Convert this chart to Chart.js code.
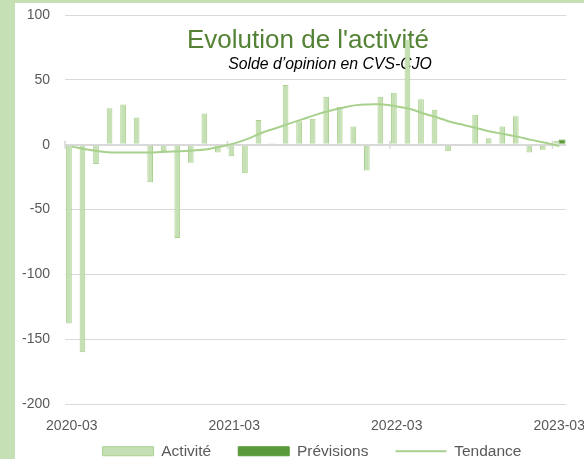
<!DOCTYPE html>
<html>
<head>
<meta charset="utf-8">
<script src="https://cdn.jsdelivr.net/npm/chart.js@4/dist/chart.umd.min.js"></script>
<style>
  body { margin: 0; background: #c5e0b4; overflow: hidden; }
  #cadre { position: absolute; left: 15px; top: 3px; width: 569px; height: 456px; background: #fff; overflow: hidden; }
</style>
</head>
<body>
<div id="cadre"><canvas id="graphe" width="569" height="466"></canvas></div>
<script>
// Données
const mois = [
    '2020-03', '2020-04', '2020-05', '2020-06', '2020-07', '2020-08', '2020-09', '2020-10', '2020-11', '2020-12',
    '2021-01', '2021-02', '2021-03', '2021-04', '2021-05', '2021-06', '2021-07', '2021-08', '2021-09', '2021-10',
    '2021-11', '2021-12', '2022-01', '2022-02', '2022-03', '2022-04', '2022-05', '2022-06', '2022-07', '2022-08',
    '2022-09', '2022-10', '2022-11', '2022-12', '2023-01', '2023-02', '2023-03'
];
const activite = [
    -138, -160, -15, 28, 31, 21, -29, -5, -72, -14,
    24, -6, -9, -22, 19, 1, 46, 18, 20, 37,
    29, 14, -20, 37, 40, 81, 35, 27, -5, -1,
    23, 5, 14, 22, -6, -4, 3
];
const previsions = [
    null, null, null, null, null, null, null, null, null, null,
    null, null, null, null, null, null, null, null, null, null,
    null, null, null, null, null, null, null, null, null, null,
    null, null, null, null, null, null, 4
];
const tendance = [
    -1.5, -3.5, -5, -6, -6, -6, -6, -5.5, -5, -4.5,
    -3.5, -1.5, 1, 4.5, 9, 12.5, 16, 19.5, 23, 26,
    28.5, 30.5, 31, 31, 29.5, 27.5, 24, 21, 17.5, 15,
    12.5, 10, 8, 6, 3.5, 1.5, -1
];
const yMin = -200;
const yMax = 100;
const yPas = 50;
const titre = "Evolution de l'activité";
const sousTitre = 'Solde d’opinion en CVS-CJO';

Chart.defaults.font.family = "'Liberation Sans', Arial, sans-serif";
Chart.defaults.color = '#595959';

// Titre dessiné dans la zone du graphique + repères sur la ligne zéro
const titres = {
    id: 'titres',
    beforeDatasetsDraw(chart) {
        const ctx = chart.ctx;
        const x = chart.scales.x;
        const y0 = chart.scales.y.getPixelForValue(0);
        const demi = (x.getPixelForValue(1) - x.getPixelForValue(0)) / 2;
        ctx.save();
        ctx.strokeStyle = '#d9d9d9';
        ctx.lineWidth = 1.5;
        ctx.beginPath();
        mois.forEach((m, i) => {
            if (m.endsWith('-03')) {
                const px = x.getPixelForValue(i) - demi;
                ctx.moveTo(px, y0 - 4);
                ctx.lineTo(px, y0 + 4);
            }
        });
        ctx.stroke();
        ctx.textAlign = 'center';
        ctx.textBaseline = 'alphabetic';
        ctx.fillStyle = '#548235';
        ctx.font = "26px 'Liberation Sans', Arial, sans-serif";
        ctx.fillText(titre, 293, 45);
        ctx.fillStyle = '#000';
        ctx.font = "italic 15.8px 'Liberation Sans', Arial, sans-serif";
        ctx.fillText(sousTitre, 315, 66);
        ctx.restore();
    }
};

// pas de découpage des étiquettes à la boîte de l'axe
const sansClip = s => { s._computeLabelArea = () => undefined; };

new Chart(document.getElementById('graphe'), {
    type: 'bar',
    data: {
        labels: mois,
        datasets: [
            {
                label: 'Activité',
                data: activite,
                backgroundColor: '#c5e0b4',
                borderColor: '#a9d18e',
                borderWidth: 1,
                barPercentage: 1.0,
                categoryPercentage: 0.84
            },
            {
                label: 'Prévisions',
                data: previsions,
                backgroundColor: '#5a9a3a',
                borderColor: '#5a9a3a',
                borderWidth: 1,
                barPercentage: 1.2,
                categoryPercentage: 0.84
            },
            {
                type: 'line',
                label: 'Tendance',
                data: tendance,
                borderColor: '#a9d18e',
                backgroundColor: '#a9d18e',
                borderWidth: 2,
                pointRadius: 0,
                tension: 0.4,
                fill: false,
                order: -1
            }
        ]
    },
    options: {
        responsive: false,
        animation: false,
        layout: { padding: { left: 25, top: 12, right: 0, bottom: 0 } },
        plugins: {
            tooltip: { enabled: false },
            legend: {
                position: 'bottom',
                labels: {
                    usePointStyle: true,
                    pointStyleWidth: 51,
                    boxHeight: 9,
                    padding: 27,
                    color: '#595959',
                    font: { size: 15.5 },
                    sort: (a, b) => a.datasetIndex - b.datasetIndex,
                    generateLabels: chart => Chart.defaults.plugins.legend.labels.generateLabels(chart).map(item => {
                        item.pointStyle = item.datasetIndex === 2 ? 'line' : 'rect';
                        return item;
                    })
                }
            }
        },
        scales: {
            x: {
                offset: true,
                grid: { display: false, drawTicks: false },
                border: { display: false },
                ticks: {
                    autoSkip: false,
                    maxRotation: 0,
                    padding: 14,
                    color: '#595959',
                    font: { size: 14 },
                    callback: function(v) {
                        const m = this.getLabelForValue(v);
                        return m.endsWith('-03') ? m : '';
                    }
                },
                afterFit: s => { s.height = 12.5; s.paddingLeft = 0; s.paddingRight = 0; sansClip(s); }
            },
            y: {
                min: yMin,
                max: yMax,
                ticks: { stepSize: yPas, padding: 15, color: '#595959', font: { size: 14 } },
                grid: {
                    color: '#d9d9d9',
                    lineWidth: c => c.tick && c.tick.value === 0 ? 2 : 1,
                    drawTicks: false
                },
                border: { display: false },
                afterFit: s => { s.width = 25; s.paddingTop = 0; s.paddingBottom = 0; sansClip(s); }
            },
            droite: {
                position: 'right',
                display: true,
                ticks: { display: false },
                grid: { display: false, drawTicks: false },
                border: { display: false },
                afterFit: s => { s.width = 18; s.paddingTop = 0; s.paddingBottom = 0; }
            }
        }
    },
    plugins: [titres]
});
</script>
</body>
</html>
